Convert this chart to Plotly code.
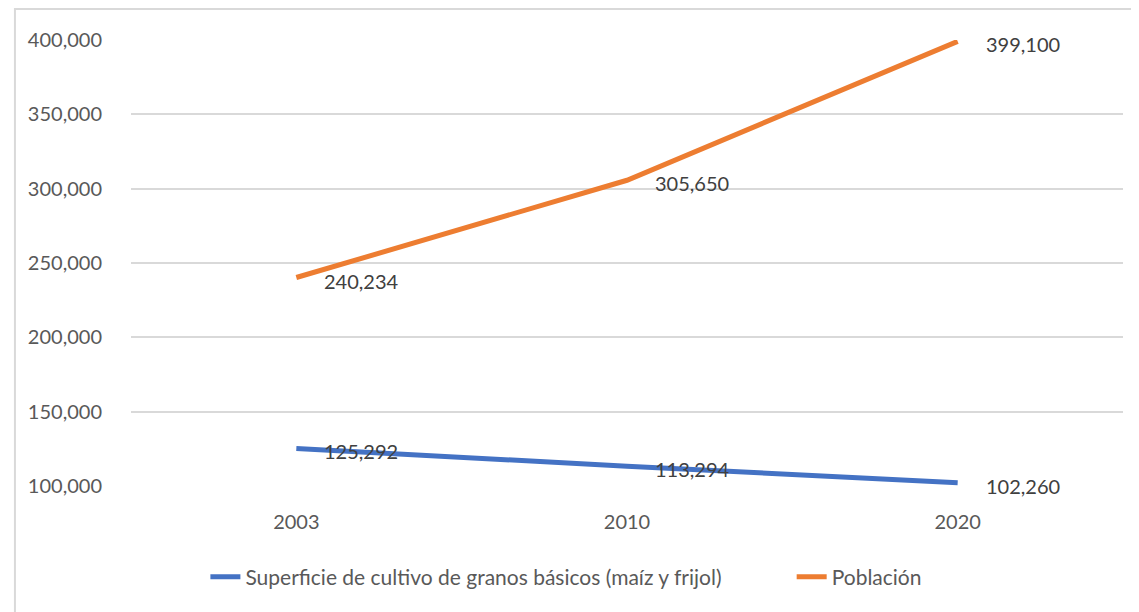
import plotly.graph_objects as go

years = ["2003", "2010", "2020"]
superficie = [125292, 113294, 102260]
poblacion = [240234, 305650, 399100]
series_names = ["Superficie de cultivo de granos básicos (maíz y frijol)", "Población"]
y_ticks = [100000, 150000, 200000, 250000, 300000, 350000, 400000]

FONT = "Lato"
BLUE = "#4472C4"
ORANGE = "#ED7D31"

fig = go.Figure()
fig.add_trace(go.Scatter(x=years, y=superficie, mode="lines", name=series_names[0],
                         line=dict(color=BLUE, width=5), legend="legend"))
fig.add_trace(go.Scatter(x=years, y=poblacion, mode="lines", name=series_names[1],
                         line=dict(color=ORANGE, width=5), legend="legend2"))

for ys in (superficie, poblacion):
    for i, yv in enumerate(ys):
        fig.add_annotation(x=i, y=yv, xref="x", yref="y", text=f"{yv:,}", showarrow=False,
                           xanchor="left", yanchor="middle", xshift=26, yshift=-3,
                           font=dict(family=FONT, size=20, color="#404040"))

# chart border (left and top visible)
fig.add_shape(type="rect", xref="paper", yref="paper",
              x0=-0.117, x1=1.03, y0=-0.3, y1=1.0695,
              line=dict(color="#D9D9D9", width=2), layer="below")

legend_style = dict(orientation="h", xanchor="left", y=-0.204, yanchor="middle",
                    font=dict(family=FONT, size=21, color="#595959"))

fig.update_layout(
    width=1131, height=604,
    margin=dict(l=123, r=16, t=32, b=126),
    paper_bgcolor="white", plot_bgcolor="white",
    font=dict(family=FONT, size=20, color="#595959"),
    showlegend=True,
    legend=dict(x=0.075, **legend_style),
    legend2=dict(x=0.666, **legend_style),
)
fig.update_xaxes(type="category", range=[-0.5, 2.5], showgrid=False, showline=False,
                 ticks="", ticklabelstandoff=22, tickfont=dict(size=20, color="#595959"))
fig.update_yaxes(range=[100000, 400000], tickvals=y_ticks, tickformat=",",
                 showgrid=True, gridcolor="#D9D9D9", gridwidth=1.5, zeroline=False,
                 showline=False, ticks="", ticklabelstandoff=28,
                 tickfont=dict(size=20, color="#595959"))

fig.write_html("out.html")
